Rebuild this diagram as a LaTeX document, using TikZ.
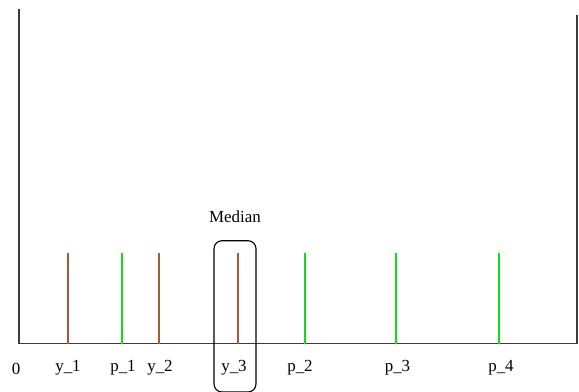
\documentclass[tikz,border=0pt]{standalone}
\usepackage{fontspec}
\setmainfont{Liberation Serif}
\definecolor{tickbrown}{RGB}{165,90,55}
\definecolor{tickgreen}{RGB}{20,220,20}
\definecolor{axisgray}{RGB}{60,60,60}
\begin{document}
\begin{tikzpicture}[x=1bp,y=1bp,
  axis/.style={draw=axisgray,line width=1.1bp},
  ytick/.style={draw=tickbrown,line width=1.2bp},
  ptick/.style={draw=tickgreen,line width=1.2bp},
  lbl/.style={font=\fontsize{17}{19}\selectfont,inner sep=0pt,anchor=base}]
\useasboundingbox (0,0) rectangle (579,391);
% axes
\coordinate (tl) at (19,382);
\coordinate (o) at (19,47.5);
\coordinate (br) at (577,47.5);
\coordinate (tr) at (577,376);
\draw[axis] (tl) -- (o) -- (br) -- (tr);
% ticks
\foreach \n/\x/\s in {y1/68/ytick, p1/122/ptick, y2/159/ytick, y3/238/ytick, p2/305/ptick, p3/396/ptick, p4/499/ptick}{
  \coordinate (\n b) at (\x,47.5);
  \coordinate (\n t) at (\x,137.7);
  \draw[\s] (\n b) -- (\n t);
}
% labels
\node[lbl] (l0) at (16,17) {0};
\node[lbl] (ly1) at (68,20) {y\_1};
\node[lbl] (lp1) at (123,20) {p\_1};
\node[lbl] (ly2) at (160,20) {y\_2};
\node[lbl] (ly3) at (234,20) {y\_3};
\node[lbl] (lp2) at (300,20) {p\_2};
\node[lbl] (lp3) at (397.5,20) {p\_3};
\node[lbl] (lp4) at (501,20) {p\_4};
\node[lbl] (med) at (235,169) {Median};
% median box
\draw[black,line width=1.1bp,rounded corners=8bp] (214,-1) rectangle (256,150.3);
\end{tikzpicture}
\end{document}
